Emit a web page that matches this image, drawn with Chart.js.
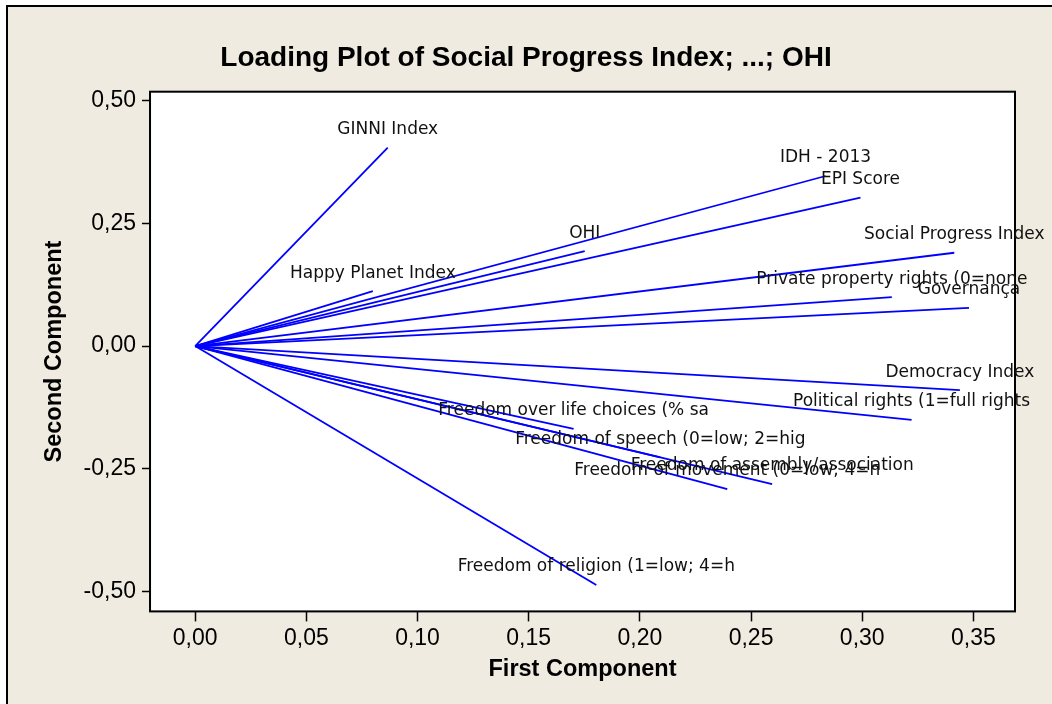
<!DOCTYPE html>
<html>
<head>
<meta charset="utf-8">
<script src="https://cdn.jsdelivr.net/npm/chart.js@4.4.0/dist/chart.umd.min.js"></script>
<style>
    html, body { margin: 0; padding: 0; background: #fff; }
    #wrap { width: 1052px; height: 704px; }
</style>
</head>
<body>
<div id="wrap"><canvas id="loadingPlot" width="1052" height="704"></canvas></div>
<script>
// variable names as Minitab prints them (truncated)
const variables = [
    'GINNI Index',
    'Happy Planet Index',
    'OHI',
    'IDH - 2013',
    'EPI Score',
    'Social Progress Index',
    'Private property rights (0=none',
    'Governança',
    'Democracy Index',
    'Political rights (1=full rights',
    'Freedom over life choices (% sa',
    'Freedom of speech (0=low; 2=hig',
    'Freedom of movement (0=low; 4=h',
    'Freedom of assembly/association',
    'Freedom of religion (1=low; 4=h'
];
const firstComponent = [0.0866, 0.0799, 0.1752, 0.2835, 0.2992, 0.3414, 0.3133, 0.3480,
    0.3439, 0.3222, 0.1702, 0.2092, 0.2393, 0.2595, 0.1804];
const secondComponent = [0.4045, 0.1118, 0.1935, 0.3466, 0.3024, 0.1902, 0.0997, 0.0780,
    -0.0900, -0.1506, -0.1686, -0.2268, -0.2914, -0.2812, -0.4871];

const xTickValues = [0, 0.05, 0.10, 0.15, 0.20, 0.25, 0.30, 0.35];
const yTickValues = [-0.50, -0.25, 0, 0.25, 0.50];

function commaLabel(v) {
    return v.toFixed(2).replace('.', ',');
}

const backgroundPlugin = {
    id: 'background',
    beforeDraw(chart) {
        const ctx = chart.ctx;
        const area = chart.chartArea;
        ctx.save();
        ctx.fillStyle = '#ffffff';
        ctx.fillRect(0, 0, chart.width, chart.height);
        ctx.fillStyle = '#efebe1';
        ctx.fillRect(7, 6, chart.width, chart.height);
        ctx.strokeStyle = '#000';
        ctx.lineWidth = 2;
        ctx.beginPath();
        ctx.moveTo(7, chart.height);
        ctx.lineTo(7, 6);
        ctx.lineTo(chart.width, 6);
        ctx.stroke();
        ctx.fillStyle = '#ffffff';
        ctx.fillRect(area.left, area.top, area.right - area.left, area.bottom - area.top);
        ctx.restore();
    }
};

const labelPlugin = {
    id: 'vectorLabels',
    afterDatasetsDraw(chart) {
        const ctx = chart.ctx;
        const area = chart.chartArea;
        ctx.save();
        ctx.strokeStyle = '#000';
        ctx.lineWidth = 2;
        ctx.strokeRect(area.left, area.top, area.right - area.left, area.bottom - area.top);
        ctx.font = '17px "DejaVu Sans"';
        ctx.fillStyle = '#111';
        ctx.textAlign = 'center';
        ctx.textBaseline = 'middle';
        chart.data.datasets.forEach((ds, i) => {
            const end = chart.getDatasetMeta(i).data[1];
            ctx.fillText(ds.label, end.x, end.y - 18);
        });
        ctx.restore();
    }
};

const datasets = variables.map((name, i) => ({
    label: name,
    data: [{x: 0, y: 0}, {x: firstComponent[i], y: secondComponent[i]}],
    showLine: true,
    borderColor: '#0000ff',
    borderWidth: 1.8,
    pointRadius: 0,
    fill: false
}));

const tickFont = {family: '"Liberation Sans"', size: 23};
const axisTitleFont = {family: '"Liberation Sans"', size: 23.5, weight: 'bold'};

window.chart = new Chart(document.getElementById('loadingPlot').getContext('2d'), {
    type: 'scatter',
    data: {datasets: datasets},
    options: {
        responsive: false,
        animation: false,
        layout: {padding: {left: 37, right: 37, top: 0, bottom: 0}},
        plugins: {
            legend: {display: false},
            tooltip: {enabled: false},
            title: {
                display: true,
                text: 'Loading Plot of Social Progress Index; ...; OHI',
                color: '#000',
                font: {family: '"Liberation Sans"', size: 28, weight: 'bold'},
                padding: {top: 41.7, bottom: 16.4}
            }
        },
        scales: {
            x: {
                type: 'linear',
                min: -0.0203,
                max: 0.3687,
                afterBuildTicks: (scale) => { scale.ticks = xTickValues.map(v => ({value: v})); },
                ticks: {callback: commaLabel, font: tickFont, color: '#000', padding: 3},
                grid: {display: true, drawOnChartArea: false, drawTicks: true, tickLength: 10, tickColor: '#000', tickWidth: 1.5},
                border: {display: false},
                title: {display: true, text: 'First Component', color: '#000', font: axisTitleFont, padding: {top: 0, bottom: 20.8}}
            },
            y: {
                type: 'linear',
                min: -0.5408,
                max: 0.5184,
                afterBuildTicks: (scale) => { scale.ticks = yTickValues.map(v => ({value: v})); },
                ticks: {callback: commaLabel, font: tickFont, color: '#000', padding: 6},
                grid: {display: true, drawOnChartArea: false, drawTicks: true, tickLength: 8, tickColor: '#000', tickWidth: 1.5},
                border: {display: false},
                title: {display: true, text: 'Second Component', color: '#000', font: axisTitleFont, padding: {top: 3, bottom: 9.4}}
            }
        }
    },
    plugins: [backgroundPlugin, labelPlugin]
});
</script>
</body>
</html>
